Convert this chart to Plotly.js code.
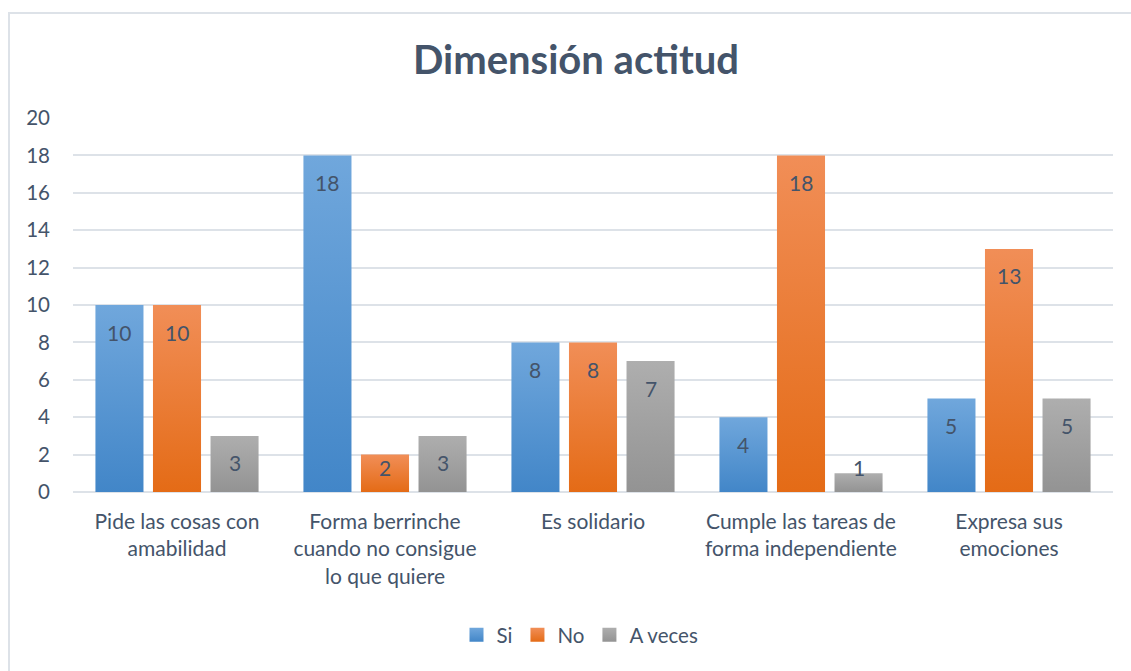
<!DOCTYPE html>
<html>
<head>
<meta charset="utf-8">
<script src="https://cdn.plot.ly/plotly-3.0.1.min.js"></script>
<style>
  html, body { margin: 0; padding: 0; background: #fff; overflow: hidden; }
  #chart { width: 1131px; height: 671px; }
  #frame { position: absolute; left: 8px; top: 12px; width: 1140px; height: 680px;
           border: 2px solid #DDE2E8; pointer-events: none; box-sizing: border-box; }
</style>
</head>
<body>
<div id="chart"></div>
<div id="frame"></div>
<script>
const categories = [
  "Pide las cosas con<br>amabilidad",
  "Forma berrinche<br>cuando no consigue<br>lo que quiere",
  "Es solidario",
  "Cumple las tareas de<br>forma independiente",
  "Expresa sus<br>emociones"
];
const seriesNames = ["Si", "No", "A veces"];
const si = [10, 18, 8, 4, 5];
const no = [10, 2, 8, 18, 13];
const aVeces = [3, 3, 7, 1, 5];
const yTicks = [0, 2, 4, 6, 8, 10, 12, 14, 16, 18, 20];

const colors = ["#5B9BD5", "#ED7D31", "#A5A5A5"];
const gradStops = [["#70A7DC", "#4286C8"], ["#F18E57", "#E46B16"], ["#AEAEAE", "#939393"]];
const textColor = "#44546A";
const font = "Lato, 'Open Sans', sans-serif";

const W = 1131, H = 671;
const margin = {l: 73, r: 18, t: 118, b: 179};
const plotW = W - margin.l - margin.r, plotH = H - margin.t - margin.b;
const bargap = 0.17, bargroupgap = 0.165;
const yMax = 20;

const allSeries = [si, no, aVeces];
const traces = allSeries.map((vals, i) => ({
  type: "bar", name: seriesNames[i], x: categories, y: vals,
  marker: {color: colors[i]}, hoverinfo: "none"
}));

// data labels, placed inside end like the original
const ppu = plotH / yMax;
const slot = plotW / categories.length * (1 - bargap) / allSeries.length;
const annotations = [];
allSeries.forEach((vals, i) => {
  vals.forEach((v, j) => {
    annotations.push({
      x: categories[j], y: Math.max(v - 27 / ppu, 25 / ppu), xref: "x", yref: "y",
      xshift: (i - 1) * slot, text: String(v), showarrow: false,
      yanchor: "middle", font: {family: font, size: 21, color: textColor}
    });
  });
});

const layout = {
  width: W, height: H, margin: margin,
  paper_bgcolor: "#fff", plot_bgcolor: "#fff",
  font: {family: font, color: textColor, size: 20},
  title: {text: "<b>Dimensión actitud</b>", x: 576 / W, xanchor: "center", xref: "container",
          y: 1 - 60 / H, yref: "container", yanchor: "middle",
          font: {family: font, size: 40, color: textColor}},
  barmode: "group", bargap: bargap, bargroupgap: bargroupgap,
  xaxis: {type: "category", showgrid: false, showline: false, zeroline: false,
          ticks: "", ticklabelstandoff: 15, tickfont: {size: 21, color: textColor}},
  yaxis: {range: [0, yMax], tickvals: yTicks, showgrid: true, gridcolor: "#DDE2E8", gridwidth: 2,
          zeroline: true, zerolinecolor: "#DDE2E8", zerolinewidth: 2, showline: false,
          ticks: "", ticklabelstandoff: 22, tickfont: {size: 20.5, color: textColor}, fixedrange: true},
  legend: {orientation: "h", x: (580 - margin.l) / plotW, xanchor: "center",
           y: -(635 - (H - margin.b)) / plotH, yanchor: "middle",
           font: {size: 20.5, color: textColor}, itemwidth: 30, traceorder: "normal"},
  annotations: annotations,
  showlegend: true
};

Plotly.newPlot("chart", traces, layout, {displayModeBar: false, staticPlot: true}).then(gd => {
  const svg = gd.querySelector(".main-svg");
  const NS = "http://www.w3.org/2000/svg";
  let defs = svg.querySelector("defs");
  if (!defs) { defs = document.createElementNS(NS, "defs"); svg.insertBefore(defs, svg.firstChild); }
  gradStops.forEach((st, i) => {
    const g = document.createElementNS(NS, "linearGradient");
    g.setAttribute("id", "grad" + i);
    g.setAttribute("x1", "0"); g.setAttribute("y1", "0"); g.setAttribute("x2", "0"); g.setAttribute("y2", "1");
    [[0, st[0]], [1, st[1]]].forEach(([o, c]) => {
      const s = document.createElementNS(NS, "stop");
      s.setAttribute("offset", o); s.setAttribute("stop-color", c);
      g.appendChild(s);
    });
    defs.appendChild(g);
  });
  gd.querySelectorAll(".barlayer .trace").forEach((tr, i) => {
    tr.querySelectorAll(".point path").forEach(p => { p.style.fill = "url(#grad" + i + ")"; });
  });
  gd.querySelectorAll(".legend .traces").forEach((tr, i) => {
    tr.querySelectorAll(".legendpoints path").forEach(p => {
      p.style.fill = "url(#grad" + i + ")";
      p.setAttribute("d", "M7,7H-7V-7H7Z");
    });
  });
});
</script>
</body>
</html>
